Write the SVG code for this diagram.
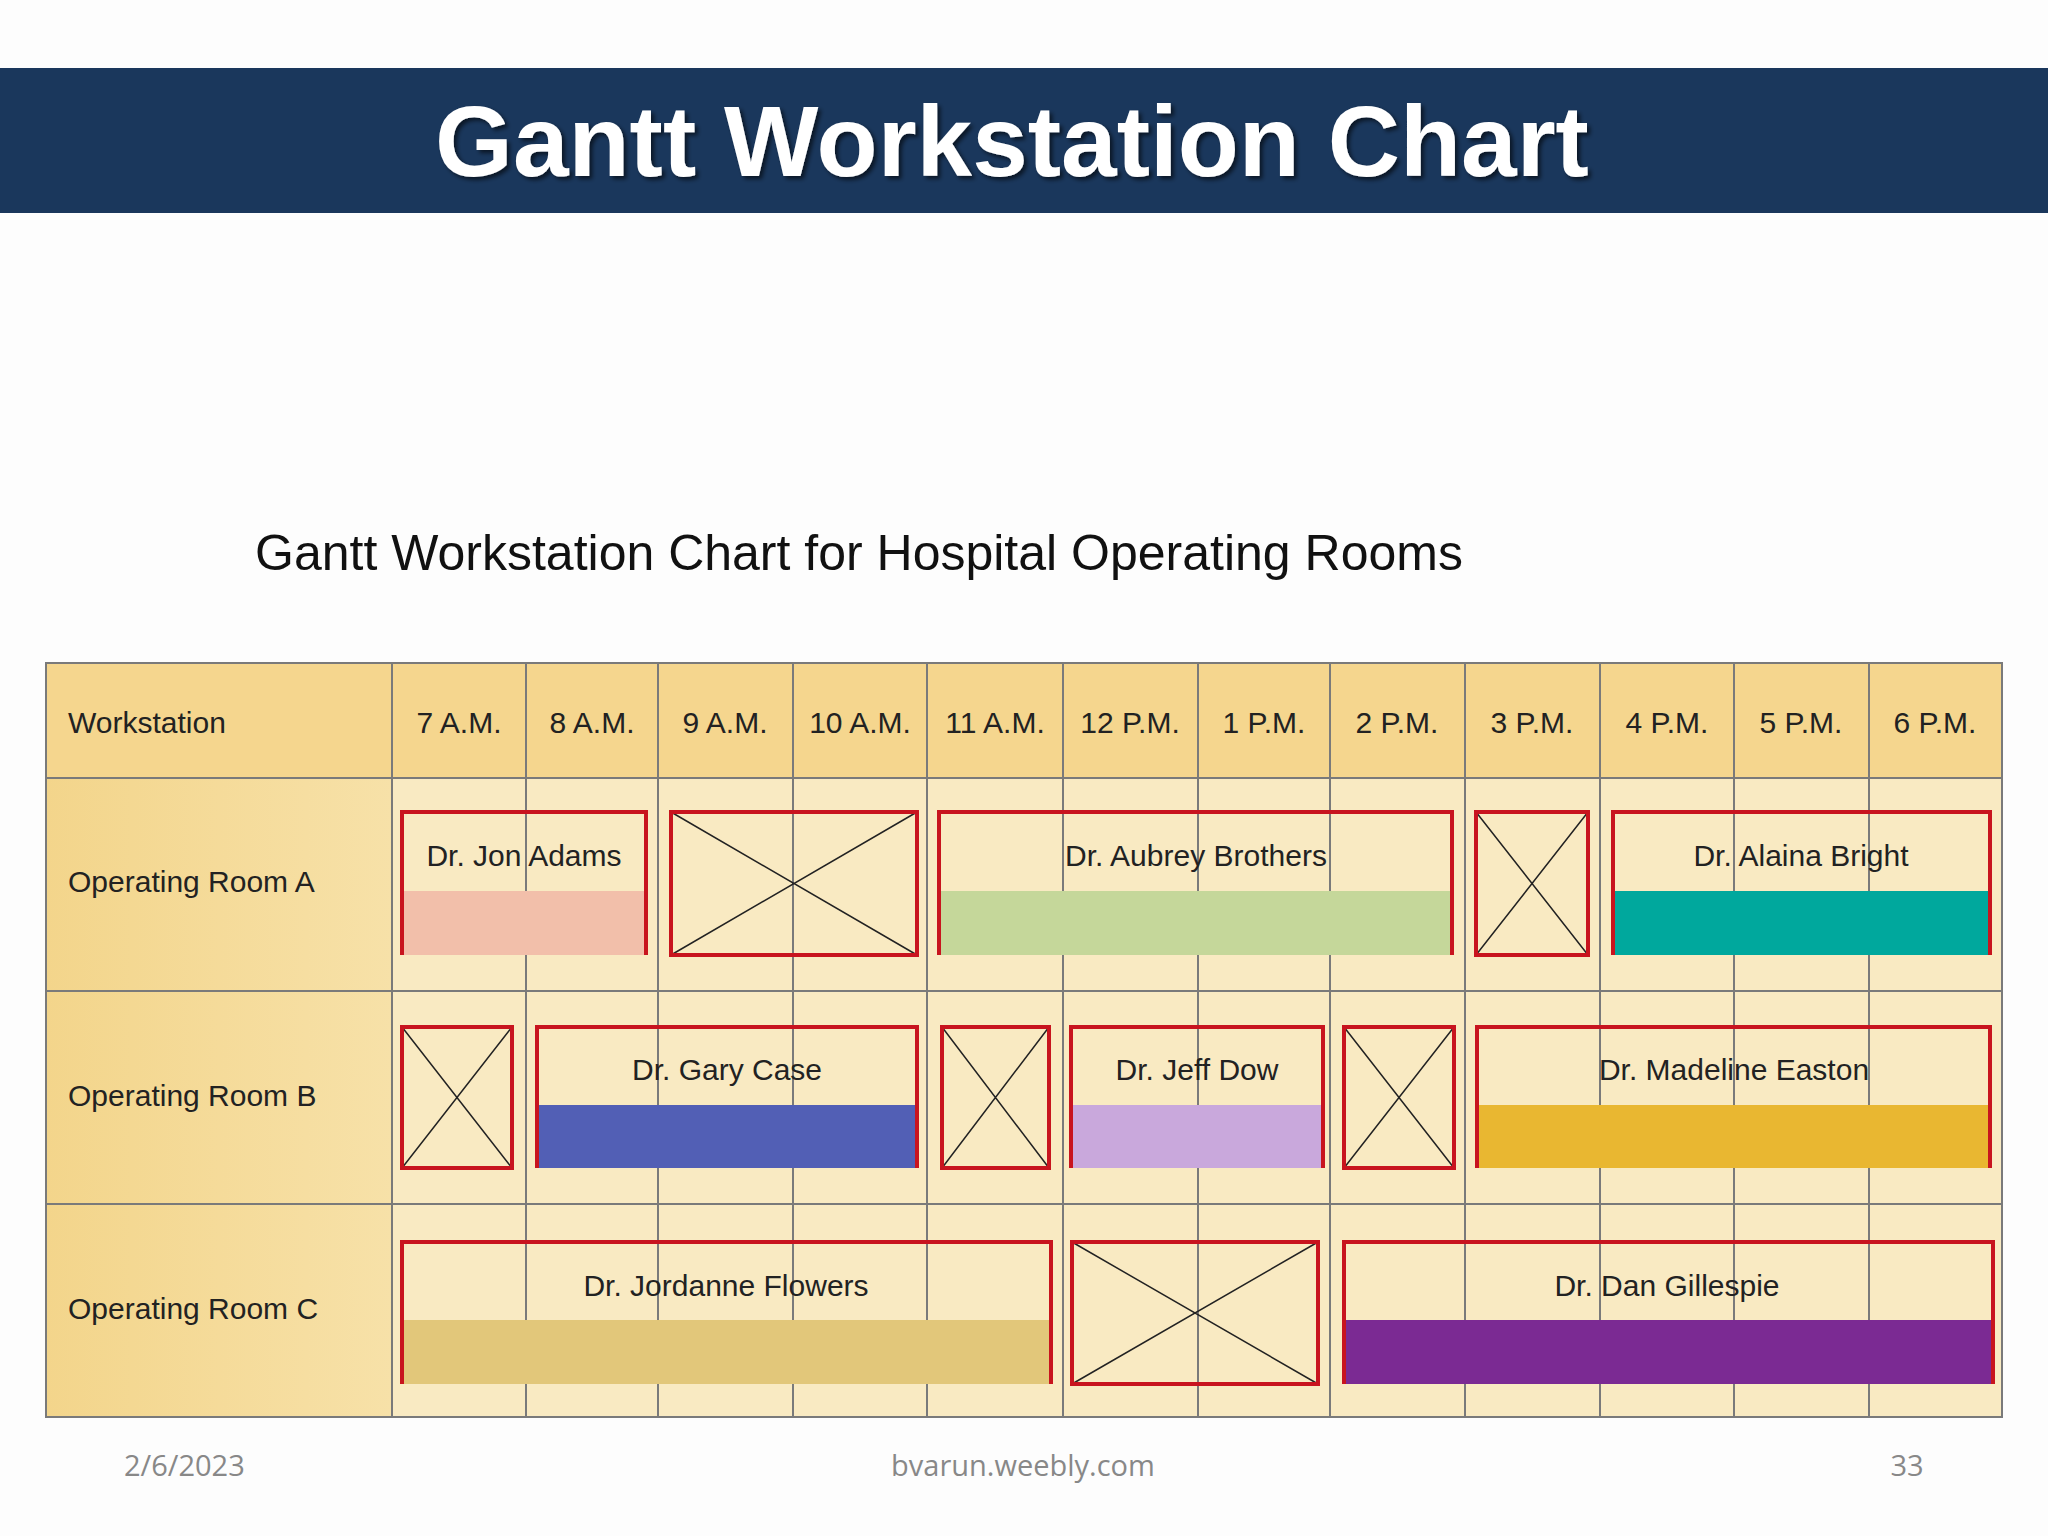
<svg xmlns="http://www.w3.org/2000/svg" width="2048" height="1536" viewBox="0 0 2048 1536">
<defs>
<style>
.h{font-family:"Liberation Sans",Arial,sans-serif;font-size:30px;fill:#222}
.lab{font-family:"Liberation Sans",Arial,sans-serif;font-size:30px;fill:#222;text-anchor:middle}
.ft{font-family:"Open Sans","Liberation Sans",sans-serif;font-size:29px;fill:#888}
.g{stroke:#7a7a7a;stroke-width:2;fill:none}
.rb{stroke:#c8141e;stroke-width:4;fill:none}
.xl{stroke:#222;stroke-width:1.5}
</style>
<linearGradient id="ws" x1="0" x2="1"><stop offset="0" stop-color="#f3d58b"/><stop offset="1" stop-color="#f7e1a8"/></linearGradient>
<filter id="sh"><feDropShadow dx="3" dy="3" stdDeviation="2" flood-color="#000" flood-opacity="0.6"/></filter>
</defs>
<rect width="2048" height="1536" fill="#fdfdfd"/>
<rect x="0" y="68" width="2048" height="145" fill="#1a375c"/>
<text x="1012" y="176" text-anchor="middle" font-family="Liberation Sans,Arial,sans-serif" font-weight="bold" font-size="100" fill="#fff" filter="url(#sh)">Gantt Workstation Chart</text>
<text x="255" y="570" font-family="Liberation Sans,Arial,sans-serif" font-size="50" fill="#111">Gantt Workstation Chart for Hospital Operating Rooms</text>

<g id="table">
<rect x="46" y="663" width="1956" height="754" fill="#f9eac2"/>
<rect x="46" y="663" width="1956" height="115" fill="#f5d68e"/>
<rect x="46" y="778" width="346" height="639" fill="url(#ws)"/>
<g class="g">
<rect x="46" y="663" width="1956" height="754"/>
<path d="M46 778H2002M46 991H2002M46 1204H2002M392 663V1417M526 663V1417M658 663V1417M793 663V1417M927 663V1417M1063 663V1417M1198 663V1417M1330 663V1417M1465 663V1417M1600 663V1417M1734 663V1417M1869 663V1417"/>
</g>
<text class="h" x="68" y="733">Workstation</text>
<g class="lab">
<text class="lab" x="459" y="733">7 A.M.</text><text class="lab" x="592" y="733">8 A.M.</text><text class="lab" x="725" y="733">9 A.M.</text><text class="lab" x="860" y="733">10 A.M.</text><text class="lab" x="995" y="733">11 A.M.</text><text class="lab" x="1130" y="733">12 P.M.</text><text class="lab" x="1264" y="733">1 P.M.</text><text class="lab" x="1397" y="733">2 P.M.</text><text class="lab" x="1532" y="733">3 P.M.</text><text class="lab" x="1667" y="733">4 P.M.</text><text class="lab" x="1801" y="733">5 P.M.</text><text class="lab" x="1935" y="733">6 P.M.</text>
</g>
<text class="h" x="68" y="892">Operating Room A</text>
<text class="h" x="68" y="1106">Operating Room B</text>
<text class="h" x="68" y="1319">Operating Room C</text>
</g>

<g id="bars">
<rect x="402" y="891" width="244" height="64" fill="#f2bfaa"/><path class="rb" d="M402 955V812H646V955"/><text class="lab" x="524" y="866">Dr. Jon Adams</text>
<rect x="939" y="891" width="513" height="64" fill="#c5d79a"/><path class="rb" d="M939 955V812H1452V955"/><text class="lab" x="1196" y="866">Dr. Aubrey Brothers</text>
<rect x="1613" y="891" width="377" height="64" fill="#00a89d"/><path class="rb" d="M1613 955V812H1990V955"/><text class="lab" x="1801" y="866">Dr. Alaina Bright</text>
<rect x="537" y="1105" width="380" height="63" fill="#525fb5"/><path class="rb" d="M537 1168V1027H917V1168"/><text class="lab" x="727" y="1080">Dr. Gary Case</text>
<rect x="1071" y="1105" width="252" height="63" fill="#c9a8dc"/><path class="rb" d="M1071 1168V1027H1323V1168"/><text class="lab" x="1197" y="1080">Dr. Jeff Dow</text>
<rect x="1477" y="1105" width="513" height="63" fill="#e9b731"/><path class="rb" d="M1477 1168V1027H1990V1168"/><text class="lab" x="1734" y="1080">Dr. Madeline Easton</text>
<rect x="402" y="1320" width="649" height="64" fill="#e2c77a"/><path class="rb" d="M402 1384V1242H1051V1384"/><text class="lab" x="726" y="1296">Dr. Jordanne Flowers</text>
<rect x="1344" y="1320" width="649" height="64" fill="#7b2a93"/><path class="rb" d="M1344 1384V1242H1993V1384"/><text class="lab" x="1667" y="1296">Dr. Dan Gillespie</text>
</g>

<g id="blocked">
<g><path class="xl" d="M671 812L917 955M917 812L671 955"/><rect class="rb" x="671" y="812" width="246" height="143"/></g>
<g><path class="xl" d="M1476 812L1588 955M1588 812L1476 955"/><rect class="rb" x="1476" y="812" width="112" height="143"/></g>
<g><path class="xl" d="M402 1027L512 1168M512 1027L402 1168"/><rect class="rb" x="402" y="1027" width="110" height="141"/></g>
<g><path class="xl" d="M942 1027L1049 1168M1049 1027L942 1168"/><rect class="rb" x="942" y="1027" width="107" height="141"/></g>
<g><path class="xl" d="M1344 1027L1454 1168M1454 1027L1344 1168"/><rect class="rb" x="1344" y="1027" width="110" height="141"/></g>
<g><path class="xl" d="M1072 1242L1318 1384M1318 1242L1072 1384"/><rect class="rb" x="1072" y="1242" width="246" height="142"/></g>
</g>

<text class="ft" x="124" y="1476">2/6/2023</text>
<text class="ft" x="1023" y="1476" text-anchor="middle">bvarun.weebly.com</text>
<text class="ft" x="1907" y="1476" text-anchor="middle">33</text>
</svg>
